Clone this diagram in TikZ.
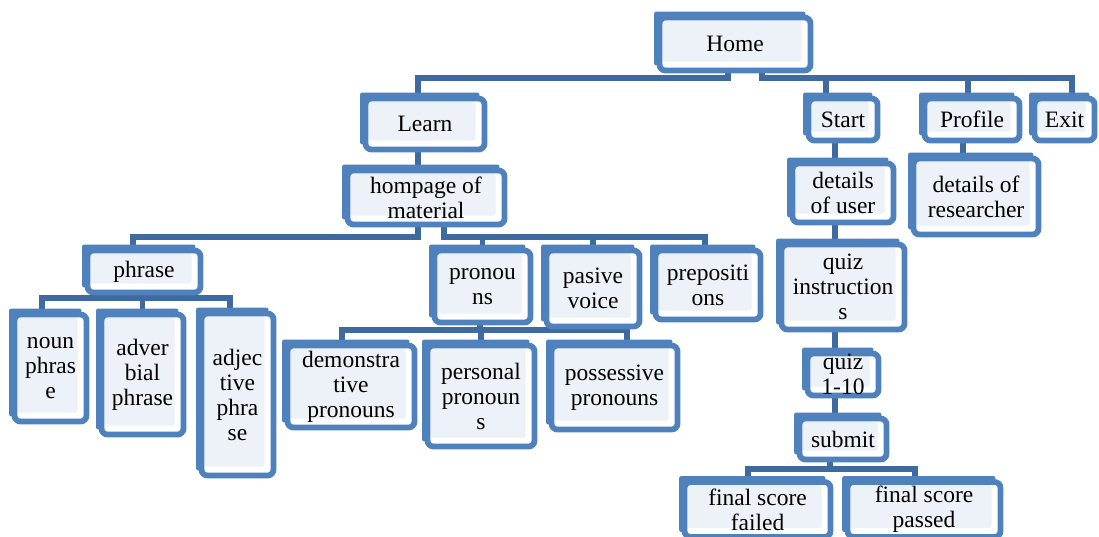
\documentclass[tikz,border=0pt]{standalone}
\usepackage{fontspec}
\setmainfont{Liberation Serif}
\usetikzlibrary{calc,backgrounds}
\definecolor{frameblue}{HTML}{4F81BD}
\definecolor{linkblue}{HTML}{3F6AA0}
\definecolor{paneback}{HTML}{EDF1F8}
\tikzset{
  menubox/.style={draw=frameblue,fill=white,line width=5.8pt,rounded corners=6pt,inner sep=0pt,align=center,
    font=\fontsize{23.5}{25}\selectfont,
    path picture={\fill[paneback,rounded corners=2pt] ($(path picture bounding box.north west)+(3,3)$) rectangle ($(path picture bounding box.south east)+(-9,-9)$);}},
  link/.style={draw=linkblue,line width=5.5pt},
}
\begin{document}
\begin{tikzpicture}[x=1pt,y=-1pt]
  % pixel grid of the menu chart, origin top left
  \useasboundingbox (0,0) rectangle (1099,536);
  \coordinate (topbus) at (0,78);
  \coordinate (midbus) at (0,237);
  \coordinate (phrasebus) at (0,298);
  \coordinate (pronbus) at (0,330);
  \coordinate (scorebus) at (0,469);

  % main menu
  \node[menubox,minimum width=151pt,minimum height=53pt] (home) at (735,44) {Home};
  \node[menubox,minimum width=119pt,minimum height=51pt] (learn) at (425,124) {Learn};
  \node[menubox,minimum width=69pt,minimum height=42pt] (start) at (843,119.5) {Start};
  \node[menubox,minimum width=95pt,minimum height=42pt] (profile) at (972,119.5) {Profile};
  \node[menubox,minimum width=60pt,minimum height=42pt] (exit) at (1064.5,119.5) {Exit};

  % learning branch
  \node[menubox,minimum width=157pt,minimum height=54pt] (material) at (426,197.5) {hompage of\\material};
  \node[menubox,minimum width=113pt,minimum height=42pt] (phrase) at (144,271.5) {phrase};
  \node[menubox,minimum width=72pt,minimum height=107pt] (noun) at (50.5,368) {noun\\phras\\e};
  \node[menubox,minimum width=82pt,minimum height=120pt] (adverb) at (142.5,374.5) {adver\\bial\\phrase};
  \node[menubox,minimum width=72pt,minimum height=162pt] (adject) at (237.5,394.5) {adjec\\tive\\phra\\se};
  \node[menubox,minimum width=96pt,minimum height=72pt] (pronoun) at (482.5,286.5) {pronou\\ns};
  \node[menubox,minimum width=93pt,minimum height=76pt] (passive) at (593,288.5) {pasive\\voice};
  \node[menubox,minimum width=105pt,minimum height=69pt] (prepos) at (708,285) {prepositi\\ons};
  \node[menubox,minimum width=127pt,minimum height=82pt] (demons) at (351,386.5) {demonstra\\tive\\pronouns};
  \node[menubox,minimum width=107pt,minimum height=101pt] (personal) at (481,396) {personal\\pronoun\\s};
  \node[menubox,minimum width=126pt,minimum height=84pt] (possess) at (614.5,387.5) {possessive\\pronouns};

  % quiz branch and profile
  \node[menubox,minimum width=101pt,minimum height=59pt] (user) at (843,193) {details\\of user};
  \node[menubox,minimum width=125pt,minimum height=76pt] (research) at (976,196.5) {details of\\researcher};
  \node[menubox,minimum width=123pt,minimum height=85pt] (instruct) at (843,287) {quiz\\instruction\\s};
  \node[menubox,minimum width=71pt,minimum height=42pt] (quiz) at (843,374.5) {quiz\\1-10};
  \node[menubox,minimum width=87pt,minimum height=41pt] (submit) at (843,439) {submit};
  \node[menubox,minimum width=146pt,minimum height=55pt] (failed) at (757.5,509.5) {final score\\failed};
  \node[menubox,minimum width=153pt,minimum height=55pt] (passed) at (924,509.5) {final score\\passed};

  \begin{scope}[on background layer]
    % connectors
    \draw[link] ([xshift=-7pt]home.south) -- ([xshift=-7pt]home.south |- topbus) -| ([xshift=-7pt]learn.north);
    \draw[link] ([xshift=27pt]home.south) -- ([xshift=27pt]home.south |- topbus) -| ([xshift=-17pt]start.north);
    \draw[link] ([xshift=27pt]home.south |- topbus) -| ([xshift=-4pt]profile.north);
    \draw[link] ([xshift=27pt]home.south |- topbus) -| ([xshift=7.5pt]exit.north);
    \draw[link] ([xshift=-7pt]learn.south) -- ([xshift=-7pt]learn.south |- material.north);
    \draw[link] ([xshift=-8pt]material.south) -- ([xshift=-8pt]material.south |- midbus) -| ([xshift=-11pt]phrase.north);
    \draw[link] ([xshift=18pt]material.south) -- ([xshift=18pt]material.south |- midbus) -| ([xshift=-3pt]prepos.north);
    \foreach \n in {pronoun,passive} \draw[link] ([xshift=18pt]material.south |- midbus) -| (\n.north);
    \draw[link] ([xshift=34pt]phrase.south) -- ([xshift=34pt]phrase.south |- phrasebus) -| ([xshift=-8.5pt]noun.north);
    \draw[link] ([xshift=34pt]phrase.south |- phrasebus) -| (adverb.north);
    \draw[link] ([xshift=34pt]phrase.south |- phrasebus) -| ([xshift=-7.5pt]adject.north);
    \draw[link] ([xshift=-2.5pt]pronoun.south) -- ([xshift=-2.5pt]pronoun.south |- pronbus) -| ([xshift=-9pt]demons.north);
    \draw[link] ([xshift=-2.5pt]pronoun.south |- pronbus) -| (personal.north);
    \draw[link] ([xshift=-2.5pt]pronoun.south |- pronbus) -| ([xshift=12.5pt]possess.north);
    \foreach \u/\v in {start/user,user/instruct,instruct/quiz,quiz/submit}
      \draw[link] ([xshift=-8pt]\u.south) -- ([xshift=-8pt]\u.south |- \v.north);
    \draw[link] ([xshift=-9pt]profile.south) -- ([xshift=-9pt]profile.south |- research.north);
    \draw[link] ([xshift=-13pt]submit.south) -- ([xshift=-13pt]submit.south |- scorebus) -| ([xshift=-9.5pt]failed.north);
    \draw[link] ([xshift=-13pt]submit.south |- scorebus) -| ([xshift=-9pt]passed.north);
    % blue backing behind every box
    \foreach \n in {home,learn,start,profile,exit,material,phrase,noun,adverb,adject,pronoun,passive,prepos,
                    demons,personal,possess,user,research,instruct,quiz,submit,failed,passed}
      \fill[frameblue,rounded corners=2pt] ($(\n.north west)+(-2.5,-3)$) rectangle ($(\n.south east)+(-8,-8)$);
  \end{scope}
\end{tikzpicture}
\end{document}
